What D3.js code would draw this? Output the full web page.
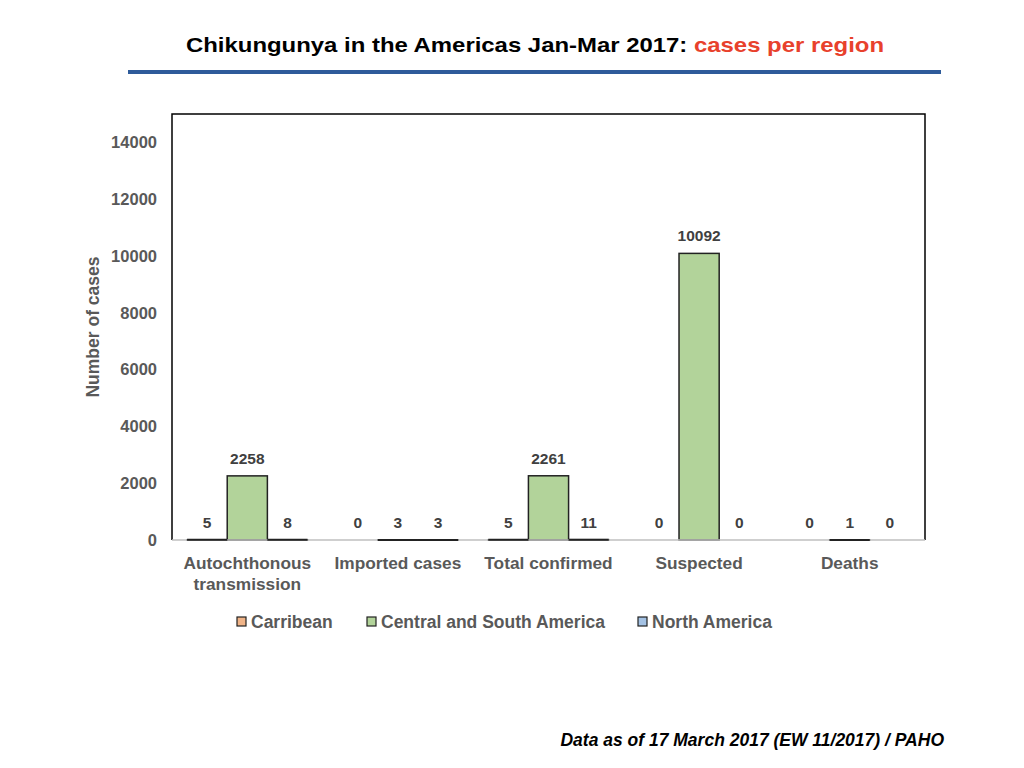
<!DOCTYPE html>
<html><head><meta charset="utf-8">
<script src="https://cdn.jsdelivr.net/npm/d3@7"></script>
<style>body{margin:0;background:#fff}svg{display:block}</style>
</head><body>
<svg id="c" width="1024" height="768"></svg>
<script>
const categories = [["Autochthonous","transmission"],["Imported cases"],["Total confirmed"],["Suspected"],["Deaths"]];
const seriesNames = ["Carribean","Central and South America","North America"];
const carribean = [5,0,5,0,0];
const centralSouth = [2258,3,2261,10092,1];
const northAmerica = [8,3,11,0,0];
const yTicks = [0,2000,4000,6000,8000,10000,12000,14000];
const colors = ["#f0b488","#b2d39a","#a4c2e4"];

const svg = d3.select("#c");
const font = "'Liberation Sans', Arial, sans-serif";
const gray = "#595959";
const L=172, R=925, T=114, B=540;

const x0 = d3.scaleBand().domain(d3.range(categories.length)).range([L,R]).paddingInner(0.2).paddingOuter(0.1);
const x1 = d3.scaleBand().domain(d3.range(3)).range([0,x0.bandwidth()]);
const y = d3.scaleLinear().domain([0,15000]).range([B,T]);

// title
const title = svg.append("text").attr("x",535).attr("y",52).attr("text-anchor","middle")
  .attr("font-family",font).attr("font-weight","bold").attr("font-size",21).attr("textLength",698).attr("lengthAdjust","spacingAndGlyphs");
title.append("tspan").attr("fill","#000").text("Chikungunya in the Americas Jan-Mar 2017: ");
title.append("tspan").attr("fill","#e8412c").text("cases per region");
svg.append("rect").attr("x",128).attr("y",70).attr("width",813).attr("height",4).attr("fill","#2e5b9a");

// frame
svg.append("path").attr("d",`M${L},${B}V${T}H${R}V${B}`).attr("fill","none").attr("stroke","#000").attr("stroke-width",1.5);

// y axis
const yAxis = svg.append("g").attr("transform",`translate(${L},0)`)
  .call(d3.axisLeft(y).tickValues(yTicks).tickSize(0).tickPadding(15).tickFormat(d3.format("d")));
yAxis.select(".domain").remove();
yAxis.selectAll("text").attr("font-family",font).attr("font-weight","bold").attr("font-size",16.5).attr("fill",gray);

svg.append("text").attr("transform",`translate(99,${(T+B)/2}) rotate(-90)`).attr("text-anchor","middle")
  .attr("font-family",font).attr("font-weight","bold").attr("font-size",17.5).attr("fill",gray).text("Number of cases");

// bars
const series = [carribean, centralSouth, northAmerica];
const data = [];
categories.forEach((c,i)=>series.forEach((s,j)=>data.push({i,j,v:s[i]})));
const g = svg.append("g");
data.forEach(d=>{
  const bx = x0(d.i)+x1(d.j), bw = x1.bandwidth();
  if(d.v>0){
    g.append("rect").attr("x",bx).attr("y",y(d.v)).attr("width",bw).attr("height",Math.max(0,y(0)-y(d.v)))
      .attr("fill",colors[d.j]).attr("stroke","#222").attr("stroke-width",1.5);
  }
  g.append("text").attr("x",bx+bw/2).attr("y",y(d.v)-12).attr("text-anchor","middle")
    .attr("font-family",font).attr("font-weight","bold").attr("font-size",15.5).attr("fill","#404040").text(d.v);
});

// baseline
svg.append("line").attr("x1",L).attr("x2",R).attr("y1",B).attr("y2",B).attr("stroke","#bfbfbf").attr("stroke-width",1.5);
// redraw small bars on top of baseline
data.forEach(d=>{
  if(d.v>0 && y(0)-y(d.v)<3){
    svg.append("line").attr("x1",x0(d.i)+x1(d.j)).attr("x2",x0(d.i)+x1(d.j)+x1.bandwidth())
      .attr("y1",y(d.v)).attr("y2",y(d.v)).attr("stroke","#222").attr("stroke-width",2);
  }
});

// category labels
categories.forEach((c,i)=>{
  const t = svg.append("text").attr("x",x0(i)+x0.bandwidth()/2).attr("y",569).attr("text-anchor","middle")
    .attr("font-family",font).attr("font-weight","bold").attr("font-size",17.3).attr("fill",gray);
  c.forEach((line,k)=>t.append("tspan").attr("x",x0(i)+x0.bandwidth()/2).attr("dy",k?21:0).text(line));
});

// legend
const legX = [237,367,638];
seriesNames.forEach((n,j)=>{
  svg.append("rect").attr("x",legX[j]).attr("y",617).attr("width",9).attr("height",9)
    .attr("fill",colors[j]).attr("stroke","#222").attr("stroke-width",1.2);
  svg.append("text").attr("x",legX[j]+14).attr("y",628).attr("font-family",font).attr("font-weight","bold")
    .attr("font-size",17.5).attr("fill",gray).text(n);
});

// footnote
svg.append("text").attr("x",944).attr("y",746).attr("text-anchor","end").attr("font-family",font)
  .attr("font-weight","bold").attr("font-style","italic").attr("font-size",17.5).attr("fill","#000")
  .text("Data as of 17 March 2017 (EW 11/2017) / PAHO");
</script>
</body></html>
